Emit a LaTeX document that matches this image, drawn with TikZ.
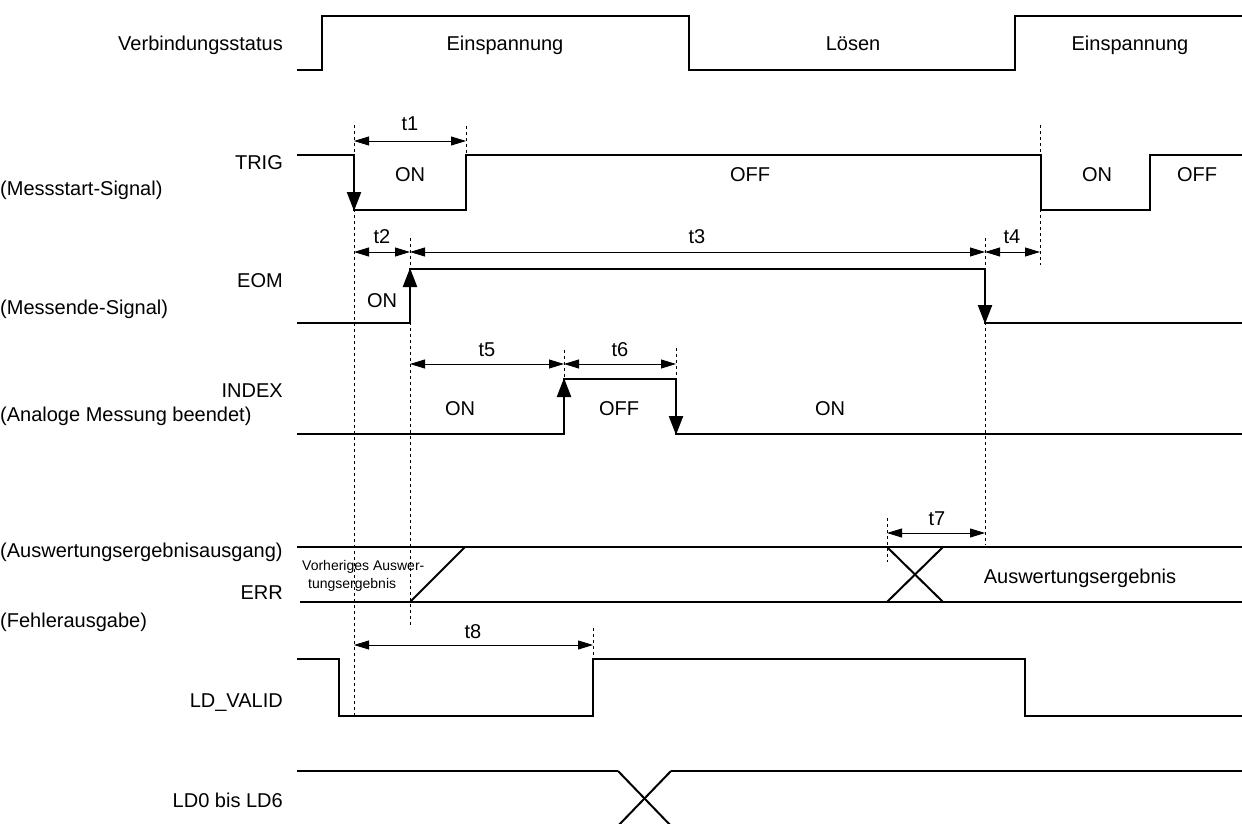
\documentclass[tikz,border=0pt]{standalone}
\usepackage{fontspec}
\setmainfont{Liberation Sans}
\usetikzlibrary{arrows.meta}
\begin{document}
\begin{tikzpicture}[x=1pt,y=-1pt,
  sig/.style={line width=2.3pt, line join=miter},
  edgearrow/.style={line width=2.3pt,-{Triangle[length=19pt,width=14pt]}},
  dim/.style={line width=0.9pt,{Triangle[length=15pt,width=9pt]}-{Triangle[length=15pt,width=9pt]}},
  guide/.style={line width=0.9pt,dash pattern=on 3pt off 3pt},
  lbl/.style={font=\fontsize{20}{24}\selectfont, inner sep=0pt, anchor=base},
  lblr/.style={lbl, anchor=base east},
  lbll/.style={lbl, anchor=base west},
  small/.style={font=\fontsize{14}{16}\selectfont, inner sep=0pt, anchor=base west}]
\useasboundingbox (0,0) rectangle (1242,824);
\clip (0,0) rectangle (1242,824);

% ---------- left labels ----------
\node[lblr] (lVerb) at (283,51) {Verbindungsstatus};
\node[lblr] (lTrig) at (283,169) {TRIG};
\node[lbll] (lTrig2) at (0,195) {(Messstart-Signal)};
\node[lblr] (lEom) at (283,287) {EOM};
\node[lbll] (lEom2) at (0,314) {(Messende-Signal)};
\node[lblr] (lIdx) at (283,397) {INDEX};
\node[lbll] (lIdx2) at (0,421) {(Analoge Messung beendet)};
\node[lbll] (lAus) at (0,557) {(Auswertungsergebnisausgang)};
\node[lblr] (lErr) at (283,599) {ERR};
\node[lbll] (lFehl) at (0,627) {(Fehlerausgabe)};
\node[lblr] (lLdv) at (283,707) {LD\_VALID};
\node[lblr] (lLd) at (283,807) {LD0 bis LD6};

% ---------- guide lines (dotted) ----------
\draw[guide] (354,125) -- (354,716);
\draw[guide] (466,126) -- (466,155);
\draw[guide] (410,238) -- (410,625);
\draw[guide] (985,238) -- (985,545);
\draw[guide] (1040,125) -- (1040,265);
\draw[guide] (564,350) -- (564,379);
\draw[guide] (676,348) -- (676,379);
\draw[guide] (887,518) -- (887,562);
\draw[guide] (593,628) -- (593,659);

% ---------- Verbindungsstatus ----------
\draw[sig] (297,70) -- (322,70) -- (322,16) -- (689,16) -- (689,70) -- (1015,70) -- (1015,16) -- (1242,16);
\node[lbl] (vs1) at (505,51) {Einspannung};
\node[lbl] (vs2) at (853,51) {Lösen};
\node[lbl] (vs3) at (1130,51) {Einspannung};

% ---------- TRIG ----------
\draw[sig] (297,155) -- (354,155) -- (354,210) -- (466,210) -- (466,155) -- (1041,155) -- (1041,210) -- (1150,210) -- (1150,155) -- (1242,155);
\draw[edgearrow] (354,155) -- (354,211);
\node[lbl] (tr1) at (410,182) {ON};
\node[lbl] (tr2) at (750,182) {OFF};
\node[lbl] (tr3) at (1097,182) {ON};
\node[lbl] (tr4) at (1197,182) {OFF};

% ---------- EOM ----------
\draw[sig] (297,323) -- (410,323) -- (410,269) -- (985,269) -- (985,323) -- (1242,323);
\draw[edgearrow] (410,323) -- (410,268);
\draw[edgearrow] (985,269) -- (985,324);
\node[lbl] (eo1) at (382,307) {ON};

% ---------- INDEX ----------
\draw[sig] (297,434) -- (564,434) -- (564,379) -- (676,379) -- (676,434) -- (1242,434);
\draw[edgearrow] (564,434) -- (564,378);
\draw[edgearrow] (676,379) -- (676,435);
\node[lbl] (ix1) at (460,415) {ON};
\node[lbl] (ix2) at (619,415) {OFF};
\node[lbl] (ix3) at (830,415) {ON};

% ---------- ERR bus ----------
\draw[sig] (297,547) -- (1242,547);
\draw[sig] (300,602) -- (1242,602);
\draw[line width=2pt] (410,602) -- (465,547);
\draw[line width=2pt] (887,547) -- (943,602);
\draw[line width=2pt] (887,602) -- (943,547);
\node[small] (prev1) at (302,570) {Vorheriges Auswer-};
\node[small] (prev2) at (308,588) {tungsergebnis};
\node[lbl] (res) at (1080,583) {Auswertungsergebnis};

% ---------- LD_VALID ----------
\draw[sig] (297,659) -- (339,659) -- (339,716) -- (593,716) -- (593,659) -- (1025,659) -- (1025,716) -- (1242,716);

% ---------- LD0 bis LD6 ----------
\draw[sig] (297,771) -- (618,771);
\draw[sig] (671,771) -- (1242,771);
\draw[line width=2pt] (618,771) -- (673,828);
\draw[line width=2pt] (671,771) -- (616,828);

% ---------- dimension arrows ----------
\coordinate (d1a) at (354,141); \coordinate (d1b) at (466,141);
\draw[dim] (d1a) -- (d1b);
\node[lbl] (t1) at (410,131) {t1};
\coordinate (d2a) at (354,252); \coordinate (d2b) at (410,252);
\draw[dim] (d2a) -- (d2b);
\node[lbl] (t2) at (382,243) {t2};
\coordinate (d3b) at (985,252);
\draw[dim] (d2b) -- (d3b);
\node[lbl] (t3) at (697,243) {t3};
\coordinate (d4b) at (1040,252);
\draw[dim] (d3b) -- (d4b);
\node[lbl] (t4) at (1012,243) {t4};
\coordinate (d5a) at (410,364); \coordinate (d5b) at (564,364); \coordinate (d6b) at (676,364);
\draw[dim] (d5a) -- (d5b);
\node[lbl] (t5) at (487,356) {t5};
\draw[dim] (d5b) -- (d6b);
\node[lbl] (t6) at (620,356) {t6};
\coordinate (d7a) at (887,533); \coordinate (d7b) at (985,533);
\draw[dim] (d7a) -- (d7b);
\node[lbl] (t7) at (937,525) {t7};
\coordinate (d8a) at (354,645); \coordinate (d8b) at (593,645);
\draw[dim] (d8a) -- (d8b);
\node[lbl] (t8) at (473,638) {t8};
\end{tikzpicture}
\end{document}
